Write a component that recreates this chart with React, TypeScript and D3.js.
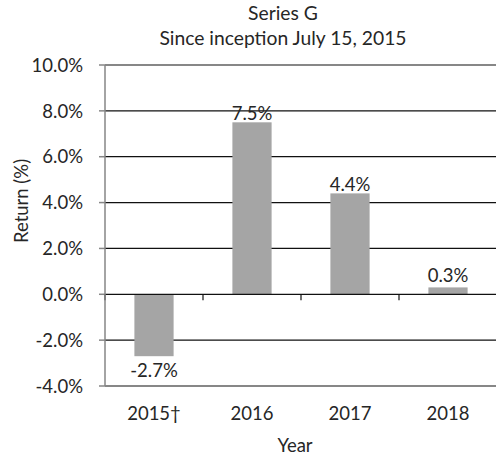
import React from "react";
import * as d3 from "d3";

const categories = ["2015†", "2016", "2017", "2018"];
const returns = [-2.7, 7.5, 4.4, 0.3];
const yTicks = [-4, -2, 0, 2, 4, 6, 8, 10];
const titleLines = ["Series G", "Since inception July 15, 2015"];

const W = 496;
const H = 458;
const FONT = "Lato, 'Open Sans', sans-serif";
const FS = 18.5;

export default function App() {
  const left = 105;
  const right = 497;
  const top = 65;
  const bottom = 386;
  const x = d3.scaleBand<string>().domain(categories).range([left, right]).paddingInner(0.6).paddingOuter(0.3);
  const xb = d3.scaleBand<string>().domain(categories).range([left, right]);
  const y = d3.scaleLinear().domain([-4, 10]).range([bottom, top]);
  const fmt = (v: number) => v.toFixed(1) + "%";
  return (
    <svg width={W} height={H} style={{ position: "absolute", left: 0, top: 0, background: "#fff" }} fontFamily={FONT}>
      {titleLines.map((t, i) => (
        <text key={i} x={283} y={20 + i * 25} textAnchor="middle" fontSize={19.3} fill="#262626">{t}</text>
      ))}
      {yTicks.map((t) => (
        <g key={t}>
          {t !== 0 && (
            <line x1={left} x2={right} y1={y(t)} y2={y(t)} stroke="#111" strokeWidth={1.2} />
          )}
          <line x1={left - 6} x2={left} y1={y(t)} y2={y(t)} stroke="#868686" strokeWidth={1.5} />
          <text x={83} y={y(t)} dy="0.36em" textAnchor="end" fontSize={FS} fill="#262626">{fmt(t)}</text>
        </g>
      ))}
      {categories.map((c, i) => {
        const v = returns[i];
        const y0 = y(Math.max(0, v));
        const y1 = y(Math.min(0, v));
        return (
          <g key={c}>
            <rect x={x(c)} y={y0} width={x.bandwidth()} height={y1 - y0} fill="#a5a5a5" />
            <text
              x={x(c)! + x.bandwidth() / 2}
              y={v >= 0 ? Math.min(y0 - 2, y(0) - 12) : y1 + 21}
              textAnchor="middle"
              fontSize={FS}
              fill="#262626"
            >{fmt(v)}</text>
            <text x={xb(c)! + xb.bandwidth() / 2} y={420} textAnchor="middle" fontSize={FS} fill="#262626">{c}</text>
          </g>
        );
      })}
      <line x1={left} x2={right} y1={y(0)} y2={y(0)} stroke="#111" strokeWidth={1.2} />
      {categories.map((c) => (
        <line key={c} x1={xb(c)!} x2={xb(c)!} y1={y(0)} y2={y(0) + 6} stroke="#111" strokeWidth={1.2} />
      ))}
      <line x1={left} x2={left} y1={top} y2={bottom} stroke="#868686" strokeWidth={1.5} />
      <text x={295} y={452} textAnchor="middle" fontSize={FS} fill="#262626">Year</text>
      <text transform={`translate(28,201) rotate(-90)`} textAnchor="middle" fontSize={FS} fill="#262626">Return (%)</text>
    </svg>
  );
}
